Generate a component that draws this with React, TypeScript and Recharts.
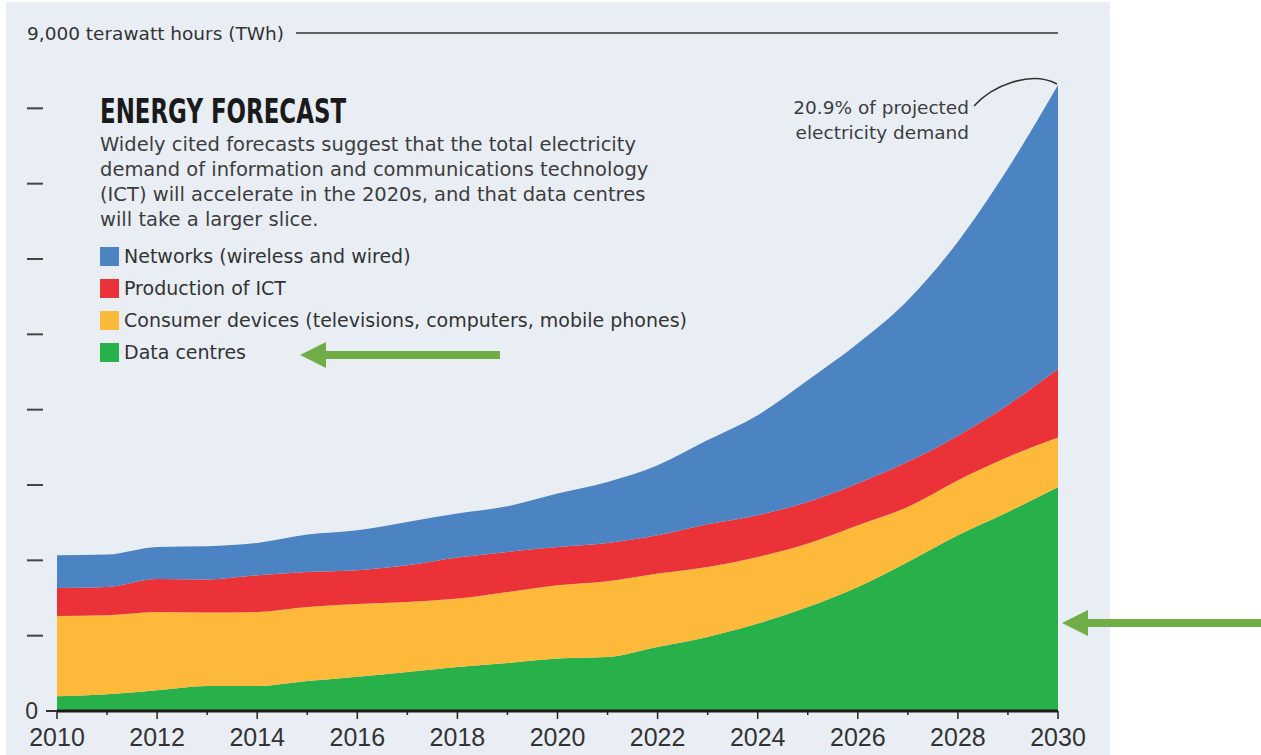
import React from "react";
import { AreaChart, Area, XAxis, YAxis, Legend } from "recharts";

const years = [2010, 2011, 2012, 2013, 2014, 2015, 2016, 2017, 2018, 2019, 2020, 2021, 2022, 2023, 2024, 2025, 2026, 2027, 2028, 2029, 2030];
const dataCentres = [195, 222, 275, 332, 332, 398, 455, 518, 584, 637, 696, 717, 850, 983, 1161, 1381, 1647, 1979, 2333, 2643, 2975];
const consumerDevices = [1067, 1049, 1040, 975, 983, 983, 965, 930, 909, 943, 973, 1005, 975, 929, 884, 842, 819, 730, 731, 730, 656];
const productionICT = [371, 376, 438, 438, 487, 465, 449, 487, 544, 532, 509, 509, 508, 567, 554, 553, 554, 598, 590, 690, 910];
const networks = [435, 430, 425, 442, 429, 497, 531, 575, 584, 606, 709, 810, 930, 1117, 1328, 1616, 1859, 2147, 2576, 3137, 3768];
const yTicks = [0, 1000, 2000, 3000, 4000, 5000, 6000, 7000, 8000, 9000];

const seriesNames = {
  networks: "Networks (wireless and wired)",
  production: "Production of ICT",
  consumer: "Consumer devices (televisions, computers, mobile phones)",
  dataCentres: "Data centres",
};
const legendOrder = [seriesNames.networks, seriesNames.production, seriesNames.consumer, seriesNames.dataCentres];
const colors = {
  networks: "#4c83c3",
  production: "#ea3238",
  consumer: "#fdb93a",
  dataCentres: "#28b04a",
};

const data = years.map((year, i) => ({
  year,
  dataCentres: dataCentres[i],
  consumer: consumerDevices[i],
  production: productionICT[i],
  networks: networks[i],
}));

const W = 1261;
const H = 755;
const MARGIN = { top: 33, right: 203, bottom: 0, left: 0 };
const PLOT_RIGHT = W - MARGIN.right;
const FONT = "'Liberation Sans', Arial, Helvetica, sans-serif";
const BODY_FONT = "'DejaVu Sans', 'Liberation Sans', sans-serif";
const TEXT = "#333";

const XTick = (props: any) => {
  const { x, y, payload } = props;
  const even = payload.value % 2 === 0;
  return (
    <g>
      <line x1={x} x2={x} y1={y} y2={y + (even ? 8 : 4)} stroke="#222" strokeWidth={1.5} />
      {even && (
        <text x={x} y={y + 35} textAnchor="middle" fontFamily={FONT} fontSize={25} fill={TEXT}>
          {payload.value}
        </text>
      )}
    </g>
  );
};

const YTick = (props: any) => {
  const { x, y, payload } = props;
  const v = payload.value;
  if (v === 0) {
    return (
      <g>
        <text x={x - 19} y={y + 8} textAnchor="end" fontFamily={FONT} fontSize={23} fill={TEXT}>
          0
        </text>
        <line x1={x - 11} x2={x} y1={y} y2={y} stroke="#333" strokeWidth={2} />
      </g>
    );
  }
  if (v === 9000) {
    return (
      <g>
        <text x={x - 30} y={y + 7} fontFamily={BODY_FONT} fontSize={18.5} fill={TEXT}>
          9,000 terawatt hours (TWh)
        </text>
        <line x1={x + 239} x2={PLOT_RIGHT} y1={y} y2={y} stroke="#333" strokeWidth={1.5} />
      </g>
    );
  }
  return <line x1={x - 30} x2={x - 14} y1={y} y2={y} stroke="#444" strokeWidth={2} />;
};

const LegendContent = (props: any) => {
  const items = [...(props.payload || [])].sort(
    (a: any, b: any) => legendOrder.indexOf(a.value) - legendOrder.indexOf(b.value)
  );
  return (
    <div style={{ fontFamily: BODY_FONT }}>
      {items.map((it: any) => (
        <div key={it.value} style={{ display: "flex", alignItems: "center", height: 32 }}>
          <div style={{ width: 19, height: 19, background: it.color, marginRight: 5 }} />
          <span style={{ fontSize: 19, color: "#333", whiteSpace: "nowrap" }}>{it.value}</span>
        </div>
      ))}
    </div>
  );
};

export default function App() {
  return (
    <div style={{ position: "absolute", left: 0, top: 0, width: W, height: H, background: "#fff", overflow: "hidden" }}>
      <div style={{ position: "absolute", left: 6, top: 2, width: 1104, height: 753, background: "#e9eef5" }} />
      <div style={{ position: "absolute", left: 0, top: 0 }}>
        <AreaChart width={W} height={H} data={data} margin={MARGIN}>
          <XAxis
            dataKey="year"
            type="number"
            domain={[2010, 2030]}
            ticks={years}
            tick={<XTick />}
            tickLine={false}
            tickSize={0}
            tickMargin={0}
            axisLine={{ stroke: "#1a1a1a", strokeWidth: 3 }}
            height={44}
            interval={0}
          />
          <YAxis
            type="number"
            domain={[0, 9000]}
            ticks={yTicks}
            tick={<YTick />}
            tickLine={false}
            tickSize={0}
            tickMargin={0}
            axisLine={false}
            width={57}
            interval={0}
          />
          <Legend
            layout="vertical"
            align="center"
            verticalAlign="middle"
            content={<LegendContent />}
            wrapperStyle={{ left: 100, top: 240, width: 640, right: "auto", bottom: "auto" }}
          />
          <Area type="monotone" dataKey="dataCentres" name={seriesNames.dataCentres} stackId="1" stroke="none" fill={colors.dataCentres} fillOpacity={1} isAnimationActive={false} />
          <Area type="monotone" dataKey="consumer" name={seriesNames.consumer} stackId="1" stroke="none" fill={colors.consumer} fillOpacity={1} isAnimationActive={false} />
          <Area type="monotone" dataKey="production" name={seriesNames.production} stackId="1" stroke="none" fill={colors.production} fillOpacity={1} isAnimationActive={false} />
          <Area type="monotone" dataKey="networks" name={seriesNames.networks} stackId="1" stroke="none" fill={colors.networks} fillOpacity={1} isAnimationActive={false} />
        </AreaChart>
      </div>
      <svg width={W} height={H} style={{ position: "absolute", left: 0, top: 0, pointerEvents: "none" }}>
        <text x={100} y={123} fontFamily="'DejaVu Sans', sans-serif" fontWeight={700} fontSize={34} fill="#1a1a1a" textLength={246} lengthAdjust="spacingAndGlyphs">
          ENERGY FORECAST
        </text>
        <g fontFamily={BODY_FONT} fontSize={19.5} fill="#3d3d3d">
          <text x={100} y={151}>Widely cited forecasts suggest that the total electricity</text>
          <text x={100} y={176}>demand of information and communications technology</text>
          <text x={100} y={201}>(ICT) will accelerate in the 2020s, and that data centres</text>
          <text x={100} y={226}>will take a larger slice.</text>
        </g>
        <g fontFamily={BODY_FONT} fontSize={18.5} fill="#3d3d3d" textAnchor="end">
          <text x={969} y={114}>20.9% of projected</text>
          <text x={969} y={139}>electricity demand</text>
        </g>
        <path d="M 974 106 C 992 86, 1030 70, 1057 84" fill="none" stroke="#333" strokeWidth={1.5} />
        <g fill="#70ad47">
          <rect x={324} y={351} width={176} height={8} />
          <polygon points="300,355 326,342 326,368" />
          <rect x={1086} y={619} width={175} height={8} />
          <polygon points="1062,623 1088,610 1088,636" />
        </g>
      </svg>
    </div>
  );
}
